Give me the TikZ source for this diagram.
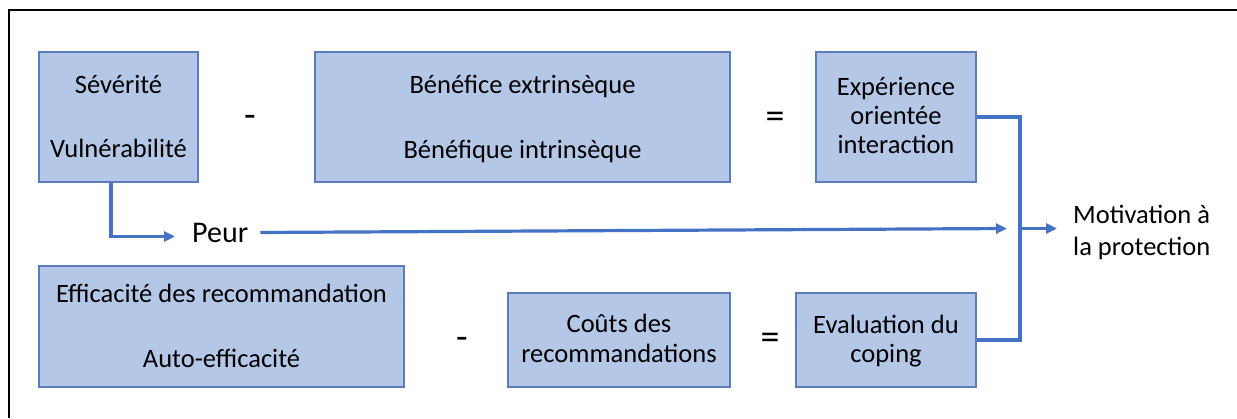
\documentclass[tikz,border=0pt]{standalone}
\usepackage{fontspec}
\setmainfont{Carlito}
\usetikzlibrary{arrows.meta}
\definecolor{boxfill}{HTML}{B4C7E7}
\definecolor{boxline}{HTML}{5B7DC0}
\definecolor{conncol}{HTML}{4472C4}
\begin{document}
\begin{tikzpicture}[x=1pt,y=-1pt,
  box/.style={draw=boxline, line width=1.5pt, fill=boxfill, inner sep=0pt, align=center,
    font=\fontsize{26.5}{29}\selectfont, text depth=0pt},
  conn/.style={draw=conncol, line width=3.2pt},
  arr/.style={conn, -{Triangle[length=11pt,width=10pt]}},
  op/.style={anchor=base, inner sep=0pt, font=\fontsize{38}{40}\selectfont},
  plain/.style={inner sep=0pt, align=left, font=\fontsize{26.5}{32}\selectfont}]
\useasboundingbox (0,0) rectangle (1237,418);
\draw[line width=2.8pt] (9,418) -- (9,10) -- (1237,10);

% top row
\node[box, minimum width=159pt, minimum height=130pt, text height=80pt]
  (sev) at (118.5,117) {Sévérité\\[35pt]Vulnérabilité};
\node[box, minimum width=415pt, minimum height=130pt, text height=82pt]
  (ben) at (522.5,117) {Bénéfice extrinsèque\\[36pt]Bénéfique intrinsèque};
\node[box, minimum width=160pt, minimum height=130pt, text height=72pt]
  (exp) at (896,117) {Expérience\\orientée\\interaction};

% bottom row
\node[box, minimum width=365pt, minimum height=121pt, text height=81pt]
  (eff) at (221.5,326.5) {Efficacité des recommandation\\[36pt]Auto-efficacité};
\node[box, minimum width=222pt, minimum height=94pt, text height=44pt]
  (cou) at (619,340) {Coûts des\\[1pt]recommandations};
\node[box, minimum width=180pt, minimum height=94pt, text height=44pt]
  (eva) at (886,340) {Evaluation du\\coping};

% operators
\node[op] (m1) at (250,127) {-};
\node[op] (e1) at (775,128) {=};
\node[op] (m2) at (462,349.5) {-};
\node[op] (e2) at (770,349.5) {=};

% texts
\node[inner sep=0pt, anchor=base west, font=\fontsize{30}{32}\selectfont] (peur) at (192,242) {Peur};
\node[plain, anchor=base west] (mot) at (1073,255) {Motivation à\\la protection};

% connectors
\coordinate (j) at (1020,228.5);
\coordinate (mt) at (1057,228.5);
\draw[arr] ([xshift=-7.5pt]sev.south) |- ([xshift=-17pt,yshift=-4pt]peur.west);
\draw[arr] ([xshift=12pt]peur.east) -- ([xshift=-13pt]j);
\draw[conn] (exp.east) -| (j) |- (eva.east);
\draw[arr] (j) -- (mt);
\end{tikzpicture}
\end{document}
